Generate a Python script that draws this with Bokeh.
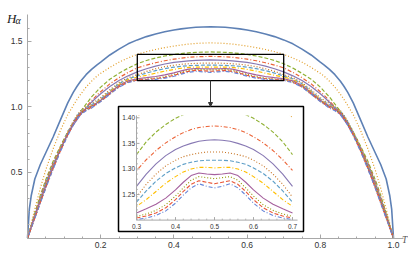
import numpy as np
from bokeh.plotting import figure
from bokeh.models import Range1d, FixedTicker, Label, Arrow, NormalHead, NumeralTickFormatter
from bokeh.core.properties import value
from bokeh.embed import file_html
from bokeh.resources import INLINE

# ---------------- data (curves are symmetric about T = 0.5) -------------
T_HALF = [0, 0.005, 0.01, 0.02, 0.035, 0.05, 0.07, 0.09, 0.11, 0.125, 0.135, 0.145,
          0.16, 0.175, 0.19, 0.2, 0.225, 0.25, 0.275, 0.3, 0.325, 0.35, 0.375, 0.4,
          0.42, 0.44, 0.46, 0.48, 0.5]

H_01 = [0, 0.22, 0.32, 0.45, 0.56, 0.65, 0.77, 0.90, 1.03, 1.11, 1.155, 1.195, 1.245, 1.285, 1.32,
        1.34, 1.395, 1.44, 1.48, 1.51, 1.535, 1.555, 1.572, 1.585, 1.594, 1.601, 1.606, 1.608, 1.609]
H_02 = [0, 0.05, 0.11, 0.22, 0.38, 0.52, 0.68, 0.82, 0.94, 1.01, 1.055, 1.095, 1.15, 1.195, 1.235,
        1.255, 1.30, 1.34, 1.372, 1.40, 1.42, 1.437, 1.451, 1.463, 1.471, 1.478, 1.483, 1.486, 1.487]
H_03 = [0, 0.045, 0.095, 0.19, 0.325, 0.445, 0.585, 0.70, 0.81, 0.875, 0.92, 0.965, 1.02, 1.075, 1.12,
        1.15, 1.21, 1.255, 1.295, 1.328, 1.353, 1.372, 1.387, 1.399, 1.406, 1.411, 1.415, 1.417, 1.418]
H_04 = [0, 0.042, 0.088, 0.18, 0.31, 0.43, 0.57, 0.69, 0.80, 0.87, 0.915, 0.955, 1.0, 1.045, 1.09,
        1.115, 1.175, 1.222, 1.262, 1.297, 1.318, 1.336, 1.351, 1.363, 1.371, 1.377, 1.381, 1.383, 1.384]
H_05 = [0, 0.04, 0.085, 0.175, 0.30, 0.42, 0.56, 0.68, 0.79, 0.86, 0.90, 0.94, 0.99, 1.035, 1.075,
        1.10, 1.155, 1.20, 1.236, 1.266, 1.29, 1.31, 1.326, 1.338, 1.345, 1.35, 1.354, 1.356, 1.357]
H_06 = [0, 0.045, 0.09, 0.18, 0.30, 0.42, 0.56, 0.69, 0.81, 0.89, 0.935, 0.97, 1.0, 1.025, 1.05,
        1.07, 1.13, 1.185, 1.222, 1.245, 1.27, 1.29, 1.306, 1.317, 1.324, 1.328, 1.331, 1.333, 1.333]
H_07 = [0, 0.042, 0.086, 0.17, 0.29, 0.41, 0.55, 0.685, 0.805, 0.885, 0.93, 0.965, 0.995, 1.015, 1.04,
        1.06, 1.12, 1.176, 1.213, 1.235, 1.257, 1.276, 1.291, 1.302, 1.309, 1.313, 1.316, 1.317, 1.317]
H_08 = [0, 0.04, 0.083, 0.165, 0.285, 0.40, 0.545, 0.68, 0.80, 0.88, 0.925, 0.96, 0.99, 1.01, 1.035,
        1.055, 1.115, 1.17, 1.207, 1.227, 1.24, 1.256, 1.272, 1.285, 1.294, 1.300, 1.303, 1.303, 1.302]
H_09 = [0, 0.039, 0.08, 0.16, 0.28, 0.395, 0.54, 0.675, 0.795, 0.875, 0.92, 0.955, 0.985, 1.005, 1.03,
        1.05, 1.107, 1.163, 1.198, 1.214, 1.222, 1.231, 1.243, 1.259, 1.274, 1.287, 1.292, 1.290, 1.289]
H_10 = [0, 0.038, 0.078, 0.157, 0.275, 0.39, 0.535, 0.67, 0.79, 0.87, 0.915, 0.95, 0.98, 1.0, 1.027,
        1.045, 1.1, 1.156, 1.191, 1.207, 1.212, 1.219, 1.23, 1.247, 1.263, 1.278, 1.285, 1.283, 1.281]
H_11 = [0, 0.037, 0.076, 0.154, 0.27, 0.385, 0.53, 0.665, 0.785, 0.865, 0.91, 0.945, 0.975, 0.995, 1.024,
        1.042, 1.098, 1.153, 1.188, 1.204, 1.208, 1.214, 1.224, 1.24, 1.256, 1.27, 1.277, 1.274, 1.271]
H_12 = [0, 0.036, 0.074, 0.15, 0.265, 0.38, 0.525, 0.66, 0.78, 0.86, 0.905, 0.94, 0.97, 0.99, 1.02,
        1.04, 1.095, 1.15, 1.185, 1.201, 1.204, 1.209, 1.218, 1.233, 1.249, 1.263, 1.271, 1.266, 1.263]

SERIES = [H_01, H_02, H_03, H_04, H_05, H_06, H_07, H_08, H_09, H_10, H_11, H_12]

X_TICKS = [0.2, 0.4, 0.6, 0.8, 1.0]
Y_TICKS = [0.5, 1.0, 1.5]
ZOOM_T = [0.3, 0.7]      # zoomed region shown in the inset
ZOOM_H = [1.2, 1.4]
INSET_X_TICKS = [0.3, 0.4, 0.5, 0.6, 0.7]
INSET_X_LABELS = ["0.3", "0.4", "0.5", "0.6", "0.7"]
INSET_Y_TICKS = [1.25, 1.30, 1.35, 1.40]
INSET_Y_LABELS = ["1.25", "1.30", "1.35", "1.40"]

# ---------------- styles ----------------
COLORS = ["#5E81B5", "#E19C24", "#8FB032", "#EB6235", "#8778B3", "#C56E1A",
          "#5D9EC7", "#FFBF00", "#A5609D", "#929600", "#E95536", "#6685D9"]
DASH_CYCLE = ["solid", "1 2", "4 2", "1 2 4 2"]
AXIS_GRAY = "#A8A8A8"
TICK_TXT = "#333333"

# full curves (mirror of the read half)
T_FULL = np.array(list(T_HALF) + [round(1 - t, 6) for t in reversed(T_HALF[:-1])])


def full(half):
    return np.array(list(half) + list(reversed(half[:-1])), dtype=float)


# ---------------- layout geometry (pixels of the plot frame == whole figure) ----------------
FIG_W, FIG_H = 408, 249
T0_PX, T1_PX = 27.0, 393.0        # pixel x of T = 0 and T = 1
H0_PX, H15_PX = 237.5, 40.7       # pixel y of H = 0 and H = 1.5
sx = (T1_PX - T0_PX) / 1.0
sy = (H0_PX - H15_PX) / 1.5
x_start = -T0_PX / sx
y_start = -(FIG_H - H0_PX) / sy

p = figure(frame_width=FIG_W, frame_height=FIG_H, output_backend="svg", toolbar_location=None,
           x_range=Range1d(x_start, x_start + FIG_W / sx),
           y_range=Range1d(y_start, y_start + FIG_H / sy),
           min_border=0, min_border_left=0, min_border_right=0,
           min_border_top=0, min_border_bottom=0)
p.outline_line_color = None
p.xgrid.visible = False
p.ygrid.visible = False
p.background_fill_color = "white"
p.border_fill_color = "white"


def mx(px):
    return x_start + px / sx


def my(py):
    return y_start + (FIG_H - py) / sy


# main axes crossing at the origin
p.xaxis.fixed_location = 0
p.yaxis.fixed_location = 0
p.xaxis.bounds = (0, 1.027)
p.yaxis.bounds = (0, 1.70)
p.xaxis.ticker = FixedTicker(ticks=X_TICKS,
                             minor_ticks=[round(0.05 * k, 3) for k in range(1, 21)])
p.yaxis.ticker = FixedTicker(ticks=Y_TICKS,
                             minor_ticks=[round(0.1 * k, 3) for k in range(1, 17)])
for ax in (p.xaxis[0], p.yaxis[0]):
    ax.formatter = NumeralTickFormatter(format="0.0")
    ax.axis_line_color = AXIS_GRAY
    ax.axis_line_width = 1
    ax.major_tick_line_color = AXIS_GRAY
    ax.minor_tick_line_color = AXIS_GRAY
    ax.major_tick_in = 4
    ax.major_tick_out = 0
    ax.minor_tick_in = 2
    ax.minor_tick_out = 0
    ax.major_label_text_font = "Liberation Sans"
    ax.major_label_text_font_size = "8.5px"
    ax.major_label_text_color = TICK_TXT
p.yaxis.major_label_standoff = 5
p.xaxis.major_label_standoff = 4

# main curves
for i, hs in enumerate(SERIES):
    p.line(T_FULL, full(hs), line_color=COLORS[i], line_dash=DASH_CYCLE[i % 4],
           line_width=1.6 if i == 0 else 1.2)

# zoom rectangle on the main plot
p.quad(left=[ZOOM_T[0]], right=[ZOOM_T[1]], bottom=[ZOOM_H[0]], top=[ZOOM_H[1]],
       fill_color=None, line_color="black", line_width=1.3)

# ---------------- inset (own ranges mapped into a box of the frame) ----------------
IN_X0_PX, IN_X1_PX = 136.0, 292.0    # px where ZOOM_T sits
IN_Y0_PX, IN_Y1_PX = 219.6, 117.3    # px where ZOOM_H sits
ix_scale = (IN_X1_PX - IN_X0_PX) / (ZOOM_T[1] - ZOOM_T[0])
iy_scale = (IN_Y0_PX - IN_Y1_PX) / (ZOOM_H[1] - ZOOM_H[0])
ix_start = ZOOM_T[0] - IN_X0_PX / ix_scale
iy_start = ZOOM_H[0] - (FIG_H - IN_Y0_PX) / iy_scale
p.extra_x_ranges = {"ix": Range1d(ix_start, ix_start + FIG_W / ix_scale)}
p.extra_y_ranges = {"iy": Range1d(iy_start, iy_start + FIG_H / iy_scale)}
IR = dict(x_range_name="ix", y_range_name="iy")


def ix(px):
    return ix_start + px / ix_scale


def iy(py):
    return iy_start + (FIG_H - py) / iy_scale


BOX = dict(left=ix(118), right=ix(303), top=iy(106), bottom=iy(231))

# white inset background
p.quad(left=[BOX["left"]], right=[BOX["right"]], top=[BOX["top"]], bottom=[BOX["bottom"]],
       fill_color="white", line_color=None, **IR)

# inset curves (only the part inside the zoom window)
sel = (T_FULL >= ZOOM_T[0] - 1e-9) & (T_FULL <= ZOOM_T[1] + 1e-9)
for i, hs in enumerate(SERIES):
    hf = full(hs)[sel]
    hf = np.where(hf <= BOX["top"], hf, np.nan)
    if np.all(np.isnan(hf)):
        continue
    p.line(T_FULL[sel], hf, line_color=COLORS[i],
           line_dash=DASH_CYCLE[i % 4], line_width=1.4 if i == 0 else 1.1, **IR)

# mask above inset plot range
y_top_axis = ZOOM_H[1] + 0.0045
p.quad(left=[ZOOM_T[0] - 0.01], right=[BOX["right"] - 0.002], bottom=[y_top_axis],
       top=[BOX["top"]], fill_color="white", line_color=None, **IR)

# inset border
p.quad(left=[BOX["left"]], right=[BOX["right"]], top=[BOX["top"]], bottom=[BOX["bottom"]],
       fill_color=None, line_color="black", line_width=1.5, **IR)

# inset axes
x_axis_end = ZOOM_T[1] + 0.013
p.segment(x0=[ZOOM_T[0], ZOOM_T[0]], y0=[ZOOM_H[0], ZOOM_H[0]],
          x1=[ZOOM_T[0], x_axis_end], y1=[y_top_axis, ZOOM_H[0]],
          line_color=AXIS_GRAY, line_width=1, **IR)
maj_y = INSET_Y_TICKS
min_y = [round(ZOOM_H[0] + 0.01 * k, 3) for k in range(1, 21)]
min_y = [v for v in min_y if all(abs(v - m) > 1e-6 for m in maj_y)]
p.segment(x0=[ZOOM_T[0]] * len(maj_y), y0=maj_y,
          x1=[ZOOM_T[0] + 3 / ix_scale] * len(maj_y), y1=maj_y,
          line_color=AXIS_GRAY, line_width=1, **IR)
p.segment(x0=[ZOOM_T[0]] * len(min_y), y0=min_y,
          x1=[ZOOM_T[0] + 1.5 / ix_scale] * len(min_y), y1=min_y,
          line_color=AXIS_GRAY, line_width=0.8, **IR)
maj_x = INSET_X_TICKS
min_x = [round(ZOOM_T[0] + 0.02 * k, 3) for k in range(1, 21)]
min_x = [v for v in min_x if all(abs(v - m) > 1e-6 for m in maj_x)]
p.segment(x0=maj_x, y0=[ZOOM_H[0]] * len(maj_x), x1=maj_x,
          y1=[ZOOM_H[0] + 3 / iy_scale] * len(maj_x),
          line_color=AXIS_GRAY, line_width=1, **IR)
p.segment(x0=min_x, y0=[ZOOM_H[0]] * len(min_x), x1=min_x,
          y1=[ZOOM_H[0] + 1.5 / iy_scale] * len(min_x),
          line_color=AXIS_GRAY, line_width=0.8, **IR)

# inset tick labels
p.text(x=[ZOOM_T[0] - 1.5 / ix_scale] * len(INSET_Y_TICKS), y=INSET_Y_TICKS, text=INSET_Y_LABELS,
       text_font=value("Liberation Sans"), text_font_size="6.5px", text_color=TICK_TXT,
       text_align="right", text_baseline="middle", **IR)
p.text(x=INSET_X_TICKS, y=[ZOOM_H[0] - 3.5 / iy_scale] * len(INSET_X_TICKS), text=INSET_X_LABELS,
       text_font=value("Liberation Sans"), text_font_size="6.5px", text_color=TICK_TXT,
       text_align="center", text_baseline="top", **IR)

# arrow from zoom rectangle to inset
p.add_layout(Arrow(x_start=(ZOOM_T[0] + ZOOM_T[1]) / 2, y_start=ZOOM_H[0],
                   x_end=(ZOOM_T[0] + ZOOM_T[1]) / 2, y_end=my(106),
                   line_color="#333333", line_width=1,
                   end=NormalHead(size=4, fill_color="#333333", line_color="#333333")))

# axis labels
p.add_layout(Label(x=mx(6.5), y=my(18.3), text="H", text_font="Liberation Serif",
                   text_font_style="italic", text_font_size="13px", text_color="#222222",
                   text_align="left", text_baseline="alphabetic"))
p.add_layout(Label(x=mx(15.0), y=my(19.5), text="α", text_font="Liberation Serif",
                   text_font_style="italic", text_font_size="10px", text_color="#222222",
                   text_align="left", text_baseline="alphabetic"))
p.add_layout(Label(x=mx(401.5), y=my(239.5), text="T", text_font="Liberation Serif",
                   text_font_style="italic", text_font_size="9.5px", text_color="#555555",
                   text_align="left", text_baseline="alphabetic"))

open("out.html", "w").write(file_html(p, INLINE))
